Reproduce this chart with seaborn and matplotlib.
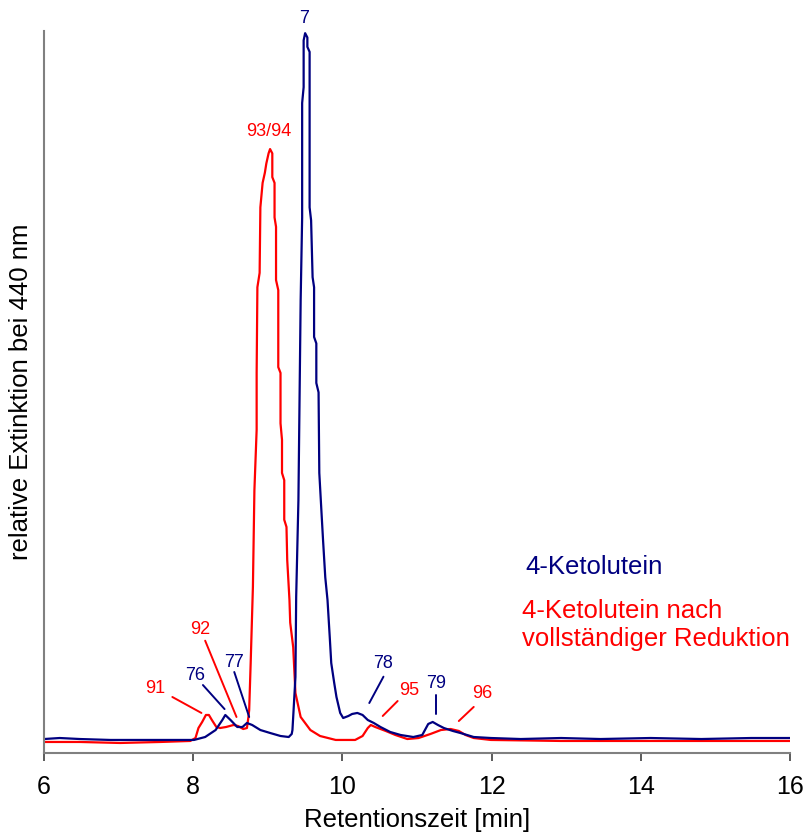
import matplotlib
matplotlib.use("Agg")
import matplotlib.pyplot as plt
import seaborn as sns
import pandas as pd

# Chromatogram traces: retention time [min] and relative extinction (main peak = 100)
ketolutein_t = [6.00, 6.21, 6.48, 6.89, 7.42, 8.01, 8.16, 8.30, 8.39, 8.43, 8.50, 8.59,
                8.66, 8.72, 8.79, 8.90, 9.03, 9.17, 9.28, 9.32, 9.33, 9.34, 9.37, 9.38,
                9.41, 9.44, 9.46, 9.46, 9.48, 9.48, 9.50, 9.53, 9.53, 9.56, 9.56, 9.58,
                9.60, 9.62, 9.62, 9.65, 9.65, 9.68, 9.69, 9.72, 9.74, 9.77, 9.80, 9.83,
                9.85, 9.89, 9.92, 9.97, 10.01, 10.08, 10.13, 10.20, 10.27, 10.34, 10.42,
                10.51, 10.64, 10.78, 10.95, 11.07, 11.15, 11.21, 11.28, 11.36, 11.48,
                11.58, 11.76, 11.99, 12.39, 12.93, 13.46, 14.13, 14.81, 15.48, 16.00]
ketolutein_e = [1.94, 2.08, 1.94, 1.81, 1.81, 1.81, 2.22, 3.19, 4.58, 5.28, 4.58, 3.61,
                3.61, 4.17, 3.89, 3.19, 2.78, 2.36, 2.22, 2.64, 3.19, 5.00, 10.56, 21.67,
                35.1, 62.9, 74.4, 90.3, 92.5, 99.0, 100.0, 99.4, 98.1, 97.4, 75.8, 74.0,
                66.1, 64.7, 57.8, 56.9, 51.4, 50.1, 38.9, 33.3, 29.6, 24.4, 21.25, 16.1,
                12.5, 9.72, 7.78, 5.56, 4.86, 5.14, 5.42, 5.56, 5.28, 4.58, 4.17,
                3.61, 2.92, 2.50, 2.22, 2.50, 4.03, 4.31, 3.89, 3.47, 3.06,
                2.78, 2.22, 2.08, 1.94, 2.08, 1.94, 2.08, 1.94, 2.08, 2.08]

reduziert_t = [6.00, 6.48, 7.02, 7.56, 7.96, 8.03, 8.07, 8.12, 8.17, 8.21, 8.25, 8.31,
               8.36, 8.44, 8.54, 8.60, 8.67, 8.72, 8.74, 8.75, 8.77, 8.80, 8.82, 8.85,
               8.85, 8.86, 8.89, 8.90, 8.93, 8.96, 8.98, 9.01, 9.03, 9.06, 9.06, 9.09,
               9.09, 9.11, 9.11, 9.14, 9.14, 9.17, 9.17, 9.19, 9.19, 9.22, 9.22, 9.25,
               9.26, 9.29, 9.30, 9.34, 9.37, 9.44, 9.57, 9.70, 9.91, 10.17, 10.27, 10.34,
               10.38, 10.44, 10.58, 10.71, 10.87, 11.02, 11.18, 11.32, 11.45, 11.56,
               11.65, 11.76, 11.99, 12.93, 14.13, 16.00]
reduziert_e = [1.53, 1.53, 1.39, 1.53, 1.67, 2.08, 3.47, 4.31, 5.28, 5.28, 4.58, 3.61,
               3.47, 3.61, 3.89, 3.75, 3.33, 3.47, 5.00, 5.97, 12.5, 23.1, 36.5, 44.9,
               52.8, 64.7, 66.7, 75.8, 79.2, 80.6, 81.9, 83.3, 83.9, 83.3, 80.0, 79.2,
               74.4, 73.1, 65.7, 64.3, 53.6, 52.8, 45.8, 43.5, 38.9, 37.9, 32.4, 31.4,
               26.8, 21.25, 18.1, 14.7, 8.33, 5.00, 3.19, 2.36, 1.81, 1.81, 2.36, 3.47,
               3.89, 3.61, 3.06, 2.50, 1.94, 2.08, 2.64, 3.19, 3.33, 3.06,
               2.50, 2.08, 1.81, 1.67, 1.67, 1.67]

# Peak labels: text, text position, leader line start and end (None = no line)
peak_labels = ["7", "93/94", "91", "92", "76", "77", "78", "95", "79", "96"]
label_pos = [(9.49, 102.1), (9.01, 86.4), (7.49, 8.9), (8.09, 17.2), (8.03, 10.7),
             (8.54, 12.6), (10.55, 12.5), (10.89, 8.75), (11.26, 9.72), (11.88, 8.2)]
leader_from = [None, None, (7.72, 7.78), (8.16, 15.6), (8.13, 9.44), (8.55, 11.25),
               (10.55, 10.6), (10.74, 7.22), (11.26, 8.06), (11.76, 6.4)]
leader_to = [None, None, (8.11, 5.56), (8.58, 5.0), (8.42, 6.1), (8.75, 5.0),
             (10.36, 6.94), (10.54, 5.14), (11.26, 5.42), (11.56, 4.44)]
label_series = ["ketolutein", "reduziert", "reduziert", "reduziert", "ketolutein",
                "ketolutein", "ketolutein", "reduziert", "ketolutein", "reduziert"]

x_ticks = [6, 8, 10, 12, 14, 16]

BLUE = "#000080"
RED = "#FF0000"
colors = {"ketolutein": BLUE, "reduziert": RED}

sns.set_style("white")
plt.rcParams["font.family"] = ["Liberation Sans", "DejaVu Sans"]

fig = plt.figure(figsize=(8.05, 8.36), dpi=100)
ax = fig.add_axes([0.0547, 0.0993, 0.9267, 0.8636])

df_red = pd.DataFrame({"t": reduziert_t, "e": reduziert_e})
df_blue = pd.DataFrame({"t": ketolutein_t, "e": ketolutein_e})
sns.lineplot(data=df_red, x="t", y="e", sort=False, estimator=None,
             color=RED, lw=1.6, ax=ax)
sns.lineplot(data=df_blue, x="t", y="e", sort=False, estimator=None,
             color=BLUE, lw=1.6, ax=ax)

for txt, (tx, ty), p0, p1, s in zip(peak_labels, label_pos, leader_from, leader_to,
                                    label_series):
    c = colors[s]
    ax.text(tx, ty, txt, color=c, fontsize=13, ha="center", va="center", clip_on=False)
    if p0 is not None:
        ax.plot([p0[0], p1[0]], [p0[1], p1[1]], color=c, lw=1.4)

ax.text(12.45, 25.8, "4-Ketolutein", color=BLUE, fontsize=18.5, va="center")
ax.text(12.41, 17.8, "4-Ketolutein nach\nvollständiger Reduktion", color=RED,
        fontsize=18.5, va="center", linespacing=1.2)

ax.set_xlim(6, 16)
ax.set_ylim(0, 100.3)
ax.set_xticks(x_ticks)
ax.set_xticklabels([str(v) for v in x_ticks], fontsize=18, color="black")
ax.set_yticks([])
ax.set_xlabel("Retentionszeit [min]", fontsize=18.5, labelpad=6, color="black")
ax.set_ylabel("relative Extinktion bei 440 nm", fontsize=18.5, labelpad=8,
              color="black")

for side in ("top", "right"):
    ax.spines[side].set_visible(False)
for side in ("left", "bottom"):
    ax.spines[side].set_color("#808080")
    ax.spines[side].set_linewidth(1.5)
ax.tick_params(axis="x", direction="out", length=6, width=1.2, color="#404040",
               pad=10, bottom=True, labelcolor="black")

fig.savefig("out.png", dpi=100)
